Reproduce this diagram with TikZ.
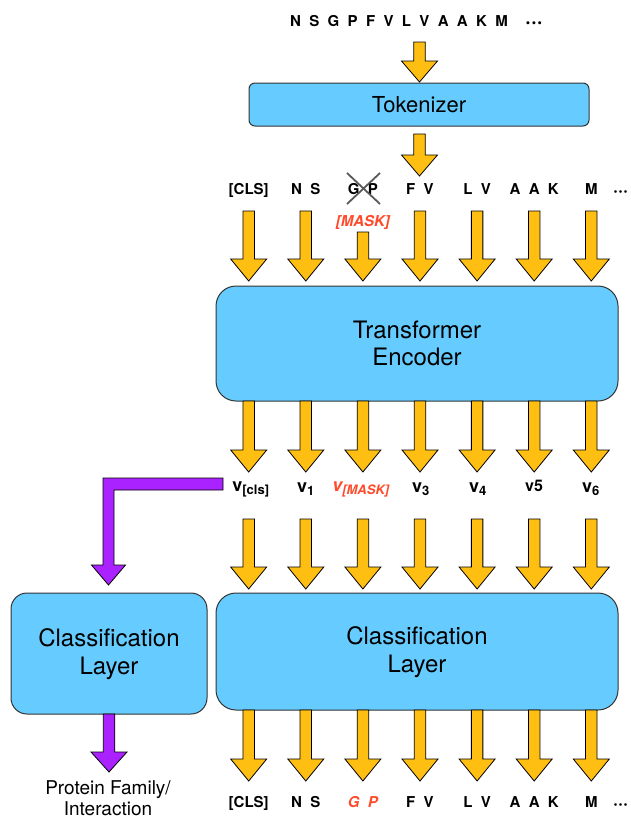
\documentclass[tikz,border=0pt]{standalone}
\usepackage{fontspec}
\setmainfont{TeX Gyre Heros}
\definecolor{boxblue}{HTML}{66CCFF}
\definecolor{yel}{HTML}{FFBF12}
\definecolor{purp}{HTML}{AA22FF}
\definecolor{maskred}{HTML}{FF4B2B}
\newcommand\barrow[5][yel]{\filldraw[arrowsty, fill=#1] ({#2-5.75},#3) -- ({#2+5.75},#3) -- ({#2+5.75},#4) -- ({#2+18},#4) -- (#2,#5) -- ({#2-18},#4) -- ({#2-5.75},#4) -- cycle;}
\tikzset{
  arrowsty/.style={draw=black, line width=0.8pt, line join=miter},
  blk/.style={draw=black!80, line width=1pt, fill=boxblue},
  tok/.style={inner sep=0pt, anchor=base, font=\fontsize{15}{18}\selectfont\bfseries},
  dots/.style={inner sep=0pt, anchor=base west, font=\fontsize{21}{22}\selectfont\bfseries},
  vlab/.style={inner sep=0pt, anchor=base, font=\fontsize{18}{20}\selectfont\bfseries},
  big/.style={align=center, font=\fontsize{24}{28.5}\selectfont},
}
\begin{document}
\begin{tikzpicture}[x=1pt,y=-1pt]
\useasboundingbox (0,0) rectangle (631,820);
% top sequence
\node[tok, anchor=base west] (seq) at (290,26) {N\ \ S\ \ G\ \ P\ \ F\ \ V\ \ L\ \ V\ \ A\ \ A\ \ K\ \ M};
\node[dots] (seqd) at (525,28) {···};
\barrow{419.5}{42}{61}{82}
% tokenizer
\draw[blk, rounded corners=6pt] (249,83) rectangle (589,126);
\node[font=\fontsize{22}{26}\selectfont] (tokz) at (419,104.5) {Tokenizer};
\barrow{419.5}{134}{155}{176}
% token row
\node[tok] (t0) at (248.7,194) {[CLS]};
\node[tok] (t1) at (305.8,194) {N\ \ S};
\node[tok] (t2) at (362.9,194) {G\ \ P};
\node[tok] (t3) at (420,194) {F\ \ V};
\node[tok] (t4) at (477.1,194) {L\ \ V};
\node[tok] (t5) at (534.2,194) {A\ \ A\ \ K};
\node[tok] (t6) at (591.3,194) {M};
\node[dots, font=\fontsize{18}{20}\selectfont\bfseries] (t7) at (613,196) {···};
\draw[black!65, line width=1.8pt] (347,173) -- (380,204) (380,173) -- (347,204);
\node[tok, text=maskred, font=\fontsize{15}{18}\selectfont\bfseries\itshape] (mask) at (362.9,226) {[MASK]};
% row 1 arrows
\foreach \i in {0,1,3,4,5,6} {\barrow{248.7+57.1*\i}{211}{259}{281}}
\barrow{362.9}{232}{259}{281}
% transformer
\draw[blk, rounded corners=20pt] (216,286) rectangle (618,401);
\node[big, font=\fontsize{24}{27.5}\selectfont] (enc) at (417,343.5) {Transformer\\Encoder};
% row 2 arrows
\foreach \i in {0,...,6} {\barrow{248.7+57.1*\i}{401}{450}{472}}
% v labels
\node[vlab] (v0) at (251,491) {v\textsubscript{\fontsize{13}{14}\selectfont [cls]}};
\node[vlab] (v1) at (306,492) {v\textsubscript{\fontsize{13}{14}\selectfont 1}};
\node[vlab, text=maskred, font=\fontsize{18}{20}\selectfont\bfseries\itshape] (v2) at (361,491) {v\textsubscript{\fontsize{13}{14}\selectfont [MASK]}};
\node[vlab] (v3) at (421,492) {v\textsubscript{\fontsize{13}{14}\selectfont 3}};
\node[vlab] (v4) at (478,492) {v\textsubscript{\fontsize{13}{14}\selectfont 4}};
\node[vlab, font=\fontsize{16}{18}\selectfont\bfseries] (v5) at (534,491) {v5};
\node[vlab] (v6) at (591,492) {v\textsubscript{\fontsize{13}{14}\selectfont 6}};
% purple elbow arrow
\filldraw[arrowsty, fill=purp] (223,478) -- (103,478) -- (103,565) -- (91.5,565) -- (108.5,585) -- (125.5,565) -- (114,565) -- (114,490) -- (223,490) -- cycle;
% row 3 arrows
\foreach \i in {0,...,6} {\barrow{248.7+57.1*\i}{519}{567}{589}}
% classification boxes
\draw[blk, rounded corners=16pt] (11,593) rectangle (207,714);
\node[big] (clsL) at (109,654) {Classification\\Layer};
\draw[blk, rounded corners=20pt] (216,593) rectangle (618,710);
\node[big] (clsR) at (417,652) {Classification\\Layer};
% purple arrow below
\barrow[purp]{109}{714}{752}{772}
\node[align=center, font=\fontsize{19}{21.5}\selectfont, anchor=north] (pf) at (108,777) {Protein Family/\\Interaction};
% row 4 arrows
\foreach \i in {0,...,6} {\barrow{248.7+57.1*\i}{710}{759}{781}}
% bottom row
\node[tok] (b0) at (248.7,807) {[CLS]};
\node[tok] (b1) at (305.8,807) {N\ \ S};
\node[tok, text=maskred, font=\fontsize{15}{18}\selectfont\bfseries\itshape] (b2) at (362.9,807) {G\ \ P};
\node[tok] (b3) at (420,807) {F\ \ V};
\node[tok] (b4) at (477.1,807) {L\ \ V};
\node[tok] (b5) at (534.2,807) {A\ \ A\ \ K};
\node[tok] (b6) at (591.3,807) {M};
\node[dots, font=\fontsize{18}{20}\selectfont\bfseries] (b7) at (613,809) {···};
\end{tikzpicture}
\end{document}
